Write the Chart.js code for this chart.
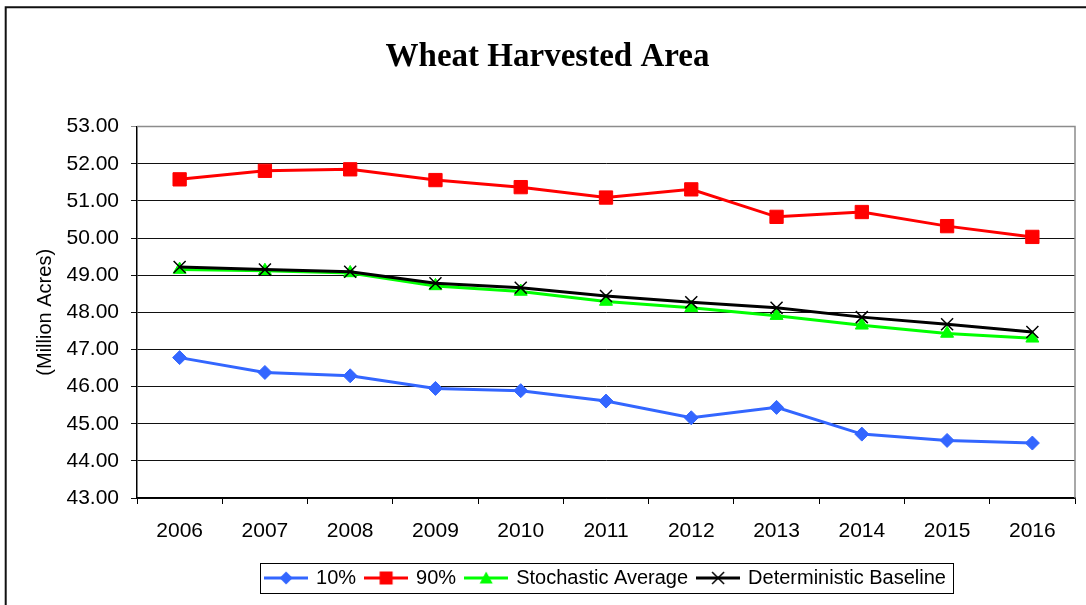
<!DOCTYPE html>
<html>
<head>
<meta charset="utf-8">
<title>Wheat Harvested Area</title>
<script src="https://cdn.jsdelivr.net/npm/chart.js@4/dist/chart.umd.min.js"></script>
<style>
    html, body { margin: 0; padding: 0; background: #fff; }
    #wrap { width: 1086px; height: 605px; }
</style>
</head>
<body>
<div id="wrap"><canvas id="wheatChart" width="1086" height="605"></canvas></div>
<script>
// Chart data (million acres)
const years = ['2006', '2007', '2008', '2009', '2010', '2011', '2012', '2013', '2014', '2015', '2016'];
const pct10 = [46.78, 46.38, 46.29, 45.95, 45.89, 45.61, 45.16, 45.44, 44.72, 44.55, 44.48];
const pct90 = [51.58, 51.81, 51.85, 51.56, 51.37, 51.09, 51.31, 50.57, 50.70, 50.32, 50.03];
const stochasticAvg = [49.15, 49.12, 49.06, 48.71, 48.56, 48.29, 48.12, 47.91, 47.65, 47.43, 47.30];
const deterministic = [49.22, 49.15, 49.09, 48.78, 48.66, 48.44, 48.27, 48.12, 47.87, 47.68, 47.47];
const seriesNames = ['10%', '90%', 'Stochastic Average', 'Deterministic Baseline'];
const yTicks = [43, 44, 45, 46, 47, 48, 49, 50, 51, 52, 53];

const SANS = 'Arial, "Liberation Sans", sans-serif';
const SERIF = '"Times New Roman", "Liberation Serif", serif';

const styles = [
    { color: '#3366ff', point: 'rectRot', radius: 7 },
    { color: '#ff0000', point: 'rect', radius: 9.4 },
    { color: '#00ff00', point: 'triangle', radius: 7.5 },
    { color: '#000000', point: 'crossRot', radius: 8.5 }
];

/**
 * Legend swatches: short line with the marker in the middle
 */
function makeSwatch(style) {
    const c = document.createElement('canvas');
    c.width = 44;
    c.height = 18;
    const g = c.getContext('2d');
    g.strokeStyle = style.color;
    g.fillStyle = style.color;
    g.lineWidth = 3;
    g.beginPath();
    g.moveTo(0, 9);
    g.lineTo(44, 9);
    g.stroke();
    const x = 22, y = 9;
    g.beginPath();
    if (style.point === 'rectRot') {
        g.moveTo(x - 6.5, y); g.lineTo(x, y - 6.5); g.lineTo(x + 6.5, y); g.lineTo(x, y + 6.5);
        g.closePath(); g.fill();
    } else if (style.point === 'rect') {
        g.fillRect(x - 6.5, y - 6.5, 13, 13);
    } else if (style.point === 'triangle') {
        g.moveTo(x, y - 6.5); g.lineTo(x + 6.5, y + 5.5); g.lineTo(x - 6.5, y + 5.5);
        g.closePath(); g.fill();
    } else {
        g.lineWidth = 1.5;
        g.moveTo(x - 6, y - 6); g.lineTo(x + 6, y + 6);
        g.moveTo(x + 6, y - 6); g.lineTo(x - 6, y + 6);
        g.stroke();
    }
    return c;
}

const swatches = styles.map(makeSwatch);

function makeDataset(label, values, style, order) {
    const isCross = style.point === 'crossRot';
    return {
        label,
        data: values,
        borderColor: style.color,
        backgroundColor: style.color,
        borderWidth: 3,
        pointStyle: style.point,
        pointRadius: style.radius,
        pointBorderWidth: isCross ? 1.5 : 1,
        pointBorderColor: style.color,
        pointBackgroundColor: style.color,
        tension: 0,
        fill: false,
        order
    };
}

// Frame around the picture, grey plot border, box round the legend
const decorations = {
    id: 'decorations',
    afterDraw(chart) {
        const ctx = chart.ctx;
        const area = chart.chartArea;
        ctx.save();
        ctx.strokeStyle = '#111';
        ctx.lineWidth = 2;
        ctx.beginPath();
        ctx.moveTo(5.7, 605);
        ctx.lineTo(5.7, 7.3);
        ctx.lineTo(1086, 7.3);
        ctx.stroke();

        ctx.strokeStyle = '#8c8c8c';
        ctx.lineWidth = 1.5;
        ctx.beginPath();
        ctx.moveTo(area.left, area.top);
        ctx.lineTo(area.right, area.top);
        ctx.lineTo(area.right, area.bottom);
        ctx.stroke();

        const boxes = chart.legend.legendHitBoxes;
        if (boxes && boxes.length) {
            const first = boxes[0];
            const last = boxes[boxes.length - 1];
            const left = Math.round(first.left - 6) + 0.5;
            const right = Math.round(last.left + last.width + 7) + 0.5;
            const top = Math.round(first.top - 5) + 0.5;
            const bottom = Math.round(first.top + first.height + 5) + 0.5;
            ctx.strokeStyle = '#000';
            ctx.lineWidth = 1;
            ctx.strokeRect(left, top, right - left, bottom - top);
        }
        ctx.restore();
    }
};

const chart = new Chart(document.getElementById('wheatChart').getContext('2d'), {
    type: 'line',
    data: {
        labels: years,
        datasets: [
            makeDataset(seriesNames[0], pct10, styles[0], 3),
            makeDataset(seriesNames[1], pct90, styles[1], 2),
            makeDataset(seriesNames[2], stochasticAvg, styles[2], 1),
            makeDataset(seriesNames[3], deterministic, styles[3], 0)
        ]
    },
    options: {
        responsive: false,
        animation: false,
        devicePixelRatio: 1,
        events: [],
        layout: { padding: { left: 20, right: 11, top: 8, bottom: 7 } },
        plugins: {
            title: {
                display: true,
                text: 'Wheat Harvested Area',
                color: '#000',
                font: { family: SERIF, size: 33, weight: 'bold' },
                padding: { top: 30, bottom: 49 }
            },
            legend: {
                position: 'bottom',
                fullSize: false,
                labels: {
                    usePointStyle: true,
                    pointStyleWidth: 40,
                    color: '#000',
                    font: { family: SANS, size: 20 },
                    padding: 10,
                    generateLabels: () => seriesNames.map((name, i) => ({
                        text: name,
                        pointStyle: swatches[i],
                        fillStyle: styles[i].color,
                        strokeStyle: styles[i].color,
                        lineWidth: 0,
                        hidden: false,
                        datasetIndex: i
                    }))
                }
            },
            tooltip: { enabled: false }
        },
        scales: {
            x: {
                offset: true,
                afterFit: (scale) => { scale.height = 60; },
                grid: {
                    offset: true,
                    drawOnChartArea: false,
                    tickLength: 6,
                    color: '#000'
                },
                border: { color: '#000', width: 1.5 },
                ticks: {
                    color: '#000',
                    font: { family: SANS, size: 21 },
                    padding: 15,
                    maxRotation: 0
                }
            },
            y: {
                min: yTicks[0],
                max: yTicks[yTicks.length - 1],
                afterFit: (scale) => { scale.width = 117; },
                afterBuildTicks: (scale) => { scale.ticks = yTicks.map(v => ({ value: v })); },
                grid: {
                    tickLength: 6,
                    color: (c) => (c.tick && c.tick.value === 53 ? '#8c8c8c' : '#111')
                },
                border: { color: '#000', width: 1.5 },
                ticks: {
                    color: '#000',
                    font: { family: SANS, size: 21 },
                    padding: 12,
                    callback: (v) => Number(v).toFixed(2)
                },
                title: {
                    display: true,
                    text: '(Million Acres)',
                    color: '#000',
                    font: { family: SANS, size: 20 },
                    padding: { top: 13, bottom: 0 }
                }
            }
        }
    },
    plugins: [decorations]
});
</script>
</body>
</html>
